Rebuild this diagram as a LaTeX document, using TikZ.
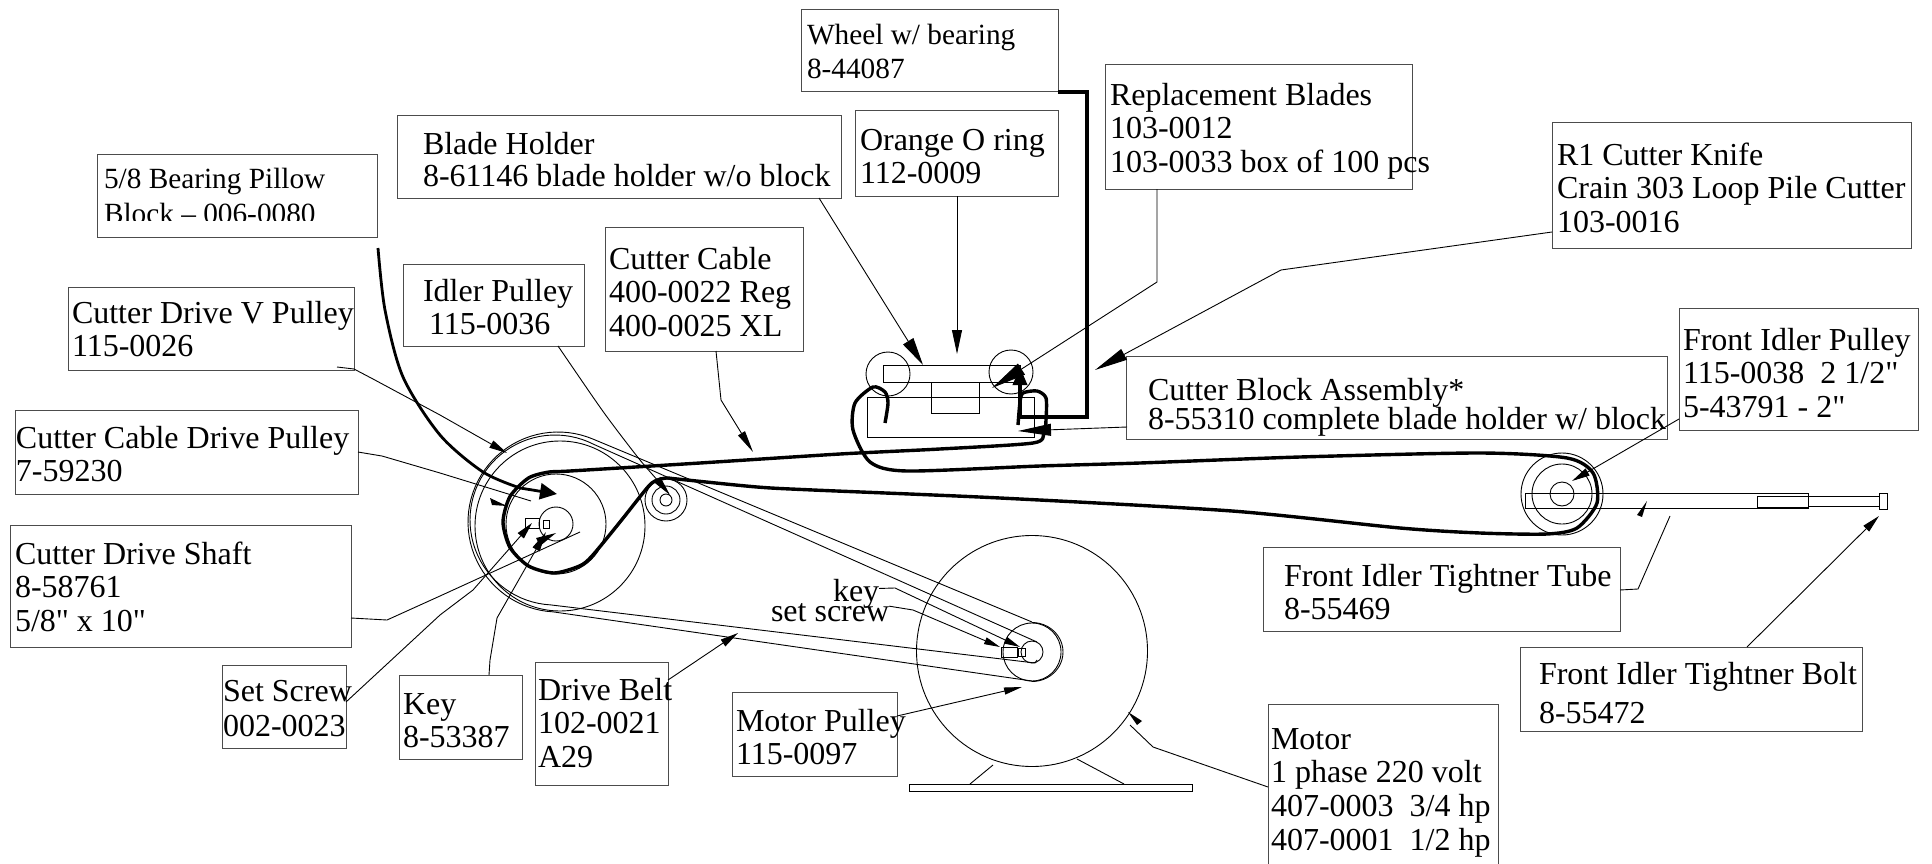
\documentclass[tikz,border=0pt]{standalone}
\usepackage{fontspec}
\setmainfont{Liberation Serif}[Ligatures=TeXOff]
\usetikzlibrary{arrows.meta}
\tikzset{
  boxn/.style={draw=black!70,line width=1pt,inner sep=0pt,outer sep=0pt,anchor=north west},
  lbl/.style={inner sep=0pt,outer sep=0pt,anchor=north west,align=left,font=\fontsize{32}{33.8}\selectfont},
  lblsm/.style={lbl,font=\fontsize{29.3}{35}\selectfont},
  part/.style={draw=black,line width=0.9pt},
  leader/.style={draw=black,line width=0.9pt},
  tipped/.style 2 args={leader,-{Triangle[length=#1pt,width=#2pt]}},
  heavy/.style={draw=black,line width=3.4pt,line join=round},
  heavyin/.style 2 args={draw=black,line width=3.4pt,line join=miter,-{Triangle[length=#1pt,width=#2pt]}},
  headonly/.style={fill=black,draw=none}
}
\newcommand\bx[5]{\node[boxn,minimum width=#4pt-#2pt,minimum height=#5pt-#3pt] (#1) at (#2,#3) {};}
\newcommand\tx[5][lbl]{\node[#1] (#2) at (#3,#4-24) {\rule{0pt}{24pt}#5};}
\begin{document}
\begin{tikzpicture}[x=1pt,y=-1pt]
\clip (0,0) rectangle (1932,864);
\useasboundingbox (0,0) rectangle (1932,864);
% boxes
\bx{wheel}{801}{10}{1058}{92}
\bx{blades}{1105}{65}{1412}{189}
\bx{holder}{397}{116}{841}{198}
\bx{oring}{855}{111}{1058}{196}
\bx{pillow}{97}{154}{377}{237}
\bx{knife}{1552}{123}{1911}{248}
\bx{cable}{605}{227}{803}{351}
\bx{idler}{403}{264}{584}{346}
\bx{vpulley}{68}{287}{354}{370}
\bx{fidler}{1679}{308}{1918}{430}
\bx{block}{1126}{356}{1667}{439}
\bx{drive}{15}{410}{358}{494}
\bx{shaft}{10}{525}{351}{647}
\bx{tube}{1263}{547}{1620}{631}
\bx{setscrew}{222}{665}{346}{748}
\bx{keyb}{399}{675}{522}{759}
\bx{belt}{535}{662}{668}{785}
\bx{mpulley}{732}{692}{897}{776}
\bx{bolt}{1520}{647}{1862}{731}
\bx{motor}{1268}{704}{1498}{880}
% texts
\tx[lblsm]{wheelT}{807}{45}{Wheel w/ bearing\\[-1pt]8-44087}
\tx{bladesT}{1110}{105}{Replacement Blades\\103-0012\\103-0033 box of 100 pcs}
\tx{holderT}{423}{154}{Blade Holder\\[-1pt]8-61146 blade holder w/o block}
\tx{oringT}{860}{150}{Orange O ring\\112-0009}
\begin{scope}
\clip (97,154) rectangle (377,220);
\tx[lblsm]{pillowT}{104}{188}{5/8 Bearing Pillow\\Block – 006-0080}
\end{scope}
\tx{knifeT}{1557}{165}{R1 Cutter Knife\\Crain 303 Loop Pile Cutter\\103-0016}
\tx{cableT}{609}{269}{Cutter Cable\\400-0022 Reg\\400-0025 XL}
\tx{idlerT}{423}{301}{Idler Pulley\\\hspace*{6pt}115-0036}
\tx{vpulleyT}{72}{323}{Cutter Drive V Pulley\\115-0026}
\tx{fidlerT}{1683}{350}{Front Idler Pulley\\115-0038\ \ 2 1/2"\\5-43791 - 2"}
\tx{blockT}{1148}{400}{Cutter Block Assembly*\\[-4pt]8-55310 complete blade holder w/ block}
\tx{driveT}{16}{448}{Cutter Cable Drive Pulley\\7-59230}
\tx{shaftT}{15}{564}{Cutter Drive Shaft\\8-58761\\5/8" x 10"}
\tx{tubeT}{1284}{586}{Front Idler Tightner Tube\\8-55469}
\tx{setscrewT}{223}{701}{Set Screw\\[2pt]002-0023}
\tx{keybT}{403}{714}{Key\\8-53387}
\tx{beltT}{538}{700}{Drive Belt\\102-0021\\A29}
\tx{mpulleyT}{736}{731}{Motor Pulley\\115-0097}
\tx{boltT}{1539}{684}{Front Idler Tightner Bolt\\[6pt]8-55472}
\tx{motorT}{1271}{749}{Motor\\1 phase 220 volt\\407-0003\ \ 3/4 hp\\407-0001\ \ 1/2 hp}
\tx{keyT}{833}{601}{key}
\tx{setT}{771}{621}{set screw}
% cutter block assembly
\draw[part] (883,365) rectangle (1020,382);
\draw[part] (931,382) rectangle (979,413);
\draw[part] (867,397) rectangle (1034,437);
\draw[part] (888,374) circle[radius=22];
\draw[part] (1011,372) circle[radius=22];
% driven pulley
\draw[part] (560,526) circle[radius=85];
\draw[part] (556,524) circle[radius=50];
\draw[part] (556,524) circle[radius=17];
\draw[part] (525,518) rectangle (539,528);
\draw[part] (543,520) rectangle (549,528);
% idler pulley
\draw[part] (666,500) circle[radius=6];
\draw[part] (666,500) circle[radius=14];
\draw[part] (666,500) circle[radius=21];
% motor
\draw[part] (1032,651) circle[radius=115.5];
\draw[part] (1032,652) circle[radius=29];
\draw[part] (1032,652) circle[radius=11];
\draw[part] (1001,647) rectangle (1017,657);
\draw[part] (1018,648) rectangle (1025,656);
\draw[part] (909,784) rectangle (1192,791);
\draw[part] (993,765) -- (970,784);
\draw[part] (1077,759) -- (1124,784);
% V belt
\draw[part,line join=round] (1032,622) -- plot[domain=-67:-267,samples=50] ({558+90*cos(\x)},{522+90*sin(\x)}) -- (1032,681)
   -- plot[domain=90:-90,samples=25] ({1032+31*cos(\x)},{652+29.5*sin(\x)});
\draw[part,line join=round] (1037,642) -- plot[domain=-63:-267,samples=50] ({555+85*cos(\x)},{520+85*sin(\x)}) -- (1035,663) -- (1037,660);
% front idler
\draw[part] (1562,494) circle[radius=12];
\draw[part] (1562,494) circle[radius=30];
\draw[part] (1562,494) circle[radius=41];
\draw[part] (1525,493) rectangle (1808,508);
\draw[part] (1757,496) rectangle (1808,507);
\draw[part] (1808,496) rectangle (1879,506);
\draw[part] (1879,493) rectangle (1887,509);
% cutter cable
\draw[heavy] plot[smooth,tension=0.45] coordinates {(1018,425) (1020,402) (1023,393) (1037,391) (1046,398) (1046,420) (1044,433) (1033,443) (940,449) (840,454) (700,463) (570,471) (549,472) (528.5,478) (510,496.5) (503,522) (510,547.5) (528.5,566) (554,573) (579.5,566) (592,556) (620,522) (647,488) (655,481) (666,478) (677,479) (757,487) (813,490) (1000,498) (1232,511) (1400,528) (1480,533) (1547,534) (1577,528) (1597,503) (1593,473) (1567,458) (1480,453) (1300,457) (1140,463) (1040,466) (907,471) (870,462) (853,430) (855,403) (873,387) (885,392) (888,403) (885,423)};
% targets of the leaders
\coordinate (tHolder) at (923,365);
\coordinate (tOring) at (957,354);
\coordinate (tBlades) at (992,388);
\coordinate (tKnife) at (1095,370);
\coordinate (tWheel) at (1020,367);
\coordinate (tBlock) at (1018,431);
\coordinate (tCable) at (753,452);
\coordinate (tIdler) at (670,495);
\coordinate (tV) at (507,453);
\coordinate (tPillow) at (557,494);
\coordinate (tDrive) at (531,501);
\coordinate (tShaft) at (580,532);
\coordinate (tSet) at (532,523);
\coordinate (tKey) at (546,532);
\coordinate (tBelt) at (738,633);
\coordinate (tMPulley) at (1022,687);
\coordinate (tMotor) at (1130,725);
\coordinate (tF) at (1572,481);
\coordinate (tTube) at (1670,516);
\coordinate (tBolt) at (1879,516);
\coordinate (tkeyw) at (1020,647);
\coordinate (tsetw) at (1000,647);
% heavy leaders
\draw[heavyin={18}{14}] (wheel.south east) -- ++(29,0) -- ++(0,325) -- (1020,417) -- (tWheel);
\draw[draw=black,line width=2.8pt,-{Triangle[length=17pt,width=16pt]}] plot[smooth,tension=0.5] coordinates {(378,248) (385,310) (403,377) (440,435) (483,472) (520,488)} -- (tPillow);
% thin leaders
\draw[tipped={28}{12}] (holder.south west) ++(422,0) -- (tHolder);
\draw[tipped={24}{10}] (oring.south west) ++(102,0) -- (tOring);
\draw[tipped={35}{13}] (blades.south west) ++(52,0) -- (1157,282) -- (tBlades);
\draw[tipped={33}{12}] (knife.north west) ++(0,109) -- (1281,270) -- (tKnife);
\draw[tipped={33}{12}] (block.north west) ++(1,71) -- (tBlock);
\draw[tipped={22}{8}] (cable.south west) ++(111,0) -- (721,400) -- (tCable);
\draw[tipped={20}{8}] plot[smooth,tension=0.5] coordinates {(558,346) (595,400) (613,425) (640,460) (660,483)} -- (tIdler);
\draw[tipped={18}{8}] (vpulley.south west) ++(269,-3) -- (354,369) -- (373,379) -- (440,415) -- (tV);
\draw[leader] (drive.north west) ++(343,42) -- (382,456) -- (440,473) -- (tDrive);
\fill[headonly] (490,498) -- (507,506) -- (492,505) -- cycle;
\draw[leader] (shaft.north west) ++(341,93) -- (387,620) -- (440,596) -- (tShaft);
\fill[headonly] (556,533) -- (536,538) -- (540,546) -- cycle;
\draw[tipped={17}{8}] (setscrew.north west) ++(124,37) -- (440,615) -- (473,590) -- (tSet);
\draw[tipped={20}{8}] (keyb.north west) ++(90,0) -- (490,660) -- (497,618) -- (tKey);
\draw[tipped={18}{8}] (belt.north west) ++(133,18) -- (tBelt);
\draw[tipped={18}{7}] (mpulley.north west) ++(165,24) -- (tMPulley);
\draw[leader] (motor.north west) ++(0,83) -- (1153,747) -- (tMotor);
\fill[headonly] (1128,712) -- (1142,721) -- (1137,725) -- cycle;
\draw[tipped={18}{8}] (fidler.north west) ++(0,111) -- (tF);
\draw[leader] (tube.north west) ++(357,43) -- (1638,589) -- (tTube);
\fill[headonly] (1647,501) -- (1637,515) -- (1642,517) -- cycle;
\draw[tipped={18}{8}] (bolt.north west) ++(227,0) -- (tBolt);
\draw[tipped={16}{7}] (keyT.east) ++(0,-4) -- (895,588) -- (tkeyw);
\draw[tipped={16}{7}] (setT.east) ++(0,-3) -- (913,610) -- (tsetw);
\end{tikzpicture}
\end{document}
